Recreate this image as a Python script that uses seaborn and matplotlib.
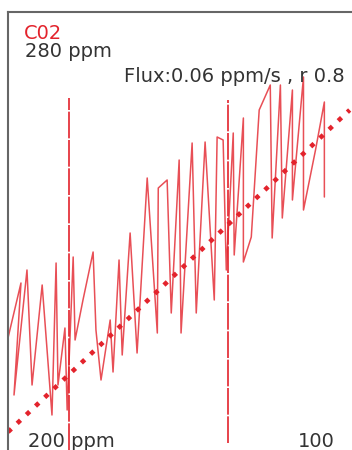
"""CO2 chamber trace with flux trend."""
import matplotlib
matplotlib.use("Agg")
import matplotlib.pyplot as plt
import seaborn as sns

sns.set_theme(style="white")
plt.rcParams["font.family"] = ["DejaVu Sans"]

# CO2 concentration trace (seconds, ppm)
trace_t = [0.0, 4.1, 1.9, 6.0, 7.6, 10.8, 13.9, 15.2, 15.8, 18.0, 18.7, 20.6,
           21.2, 23.7, 26.9, 27.8, 29.4, 32.3, 33.2, 35.1, 36.1, 38.6, 40.8,
           44.0, 47.2, 47.5, 50.3, 51.6, 54.1, 54.7, 58.2, 59.5, 62.3, 65.2,
           66.1, 68.0, 69.0, 71.2, 71.5, 74.4, 74.4, 76.9, 79.4, 82.9, 83.5,
           86.1, 86.7, 89.9, 89.9, 93.4, 93.4, 97.2, 100.0, 100.0]
trace_ppm = [222.4, 233.4, 211.0, 236.0, 213.0, 233.0, 207.0, 237.4, 213.0,
             224.4, 208.0, 238.6, 222.0, 230.0, 239.6, 224.0, 214.0, 226.0,
             215.6, 238.0, 219.0, 243.4, 219.4, 254.4, 223.4, 252.4, 254.0,
             227.4, 258.0, 223.4, 261.4, 227.4, 261.6, 230.0, 262.6, 262.0,
             236.0, 263.4, 239.0, 266.4, 237.6, 242.6, 268.0, 273.0, 242.4,
             273.0, 246.4, 272.0, 250.0, 274.6, 248.0, 260.0, 269.6, 250.6]

# fitted flux line
trend_t = [0.0, 108.0]
trend_ppm = [203.6, 268.0]

# window markers (start / end)
window_t = [19.3, 69.6]
window_top = [270.4, 270.0]
window_bottom = [200.0, 201.4]

red = "#e3232c"
ink = "#333333"

fig = plt.figure(figsize=(3.52, 4.5), dpi=100)
ax = fig.add_axes([8 / 352, 0.0, 348 / 352, 438 / 450])

for t, top, bot in zip(window_t, window_top, window_bottom):
    ax.plot([t, t], [bot, top], color=red, lw=1.2, ls=(0, (16, 1)))

sns.lineplot(x=trace_t, y=trace_ppm, sort=False, estimator=None, ax=ax,
             color=red, lw=1.1, alpha=0.8)
sns.lineplot(x=trend_t, y=trend_ppm, sort=False, estimator=None, ax=ax,
             color=red, lw=3.3, dashes=False)
ax.lines[-1].set_linestyle((0, (1, 1.75)))
ax.lines[-1].set_dash_capstyle("butt")

ax.set_xlim(0, 110)
ax.set_ylim(200, 287.6)
ax.set_xticks([]); ax.set_yticks([])
ax.set_xlabel(""); ax.set_ylabel("")
for side in ("right", "bottom"):
    ax.spines[side].set_visible(False)
for side in ("left", "top"):
    ax.spines[side].set_color("#666666")
    ax.spines[side].set_linewidth(1.5)

fs = 14
fig.text(24 / 352, 1 - 39 / 450, "C02", color=red, fontsize=fs, va="baseline")
fig.text(25 / 352, 1 - 57 / 450, "280 ppm", color=ink, fontsize=fs, va="baseline")
fig.text(345 / 352, 1 - 82 / 450, "Flux:0.06 ppm/s , r 0.8", color=ink,
         fontsize=fs, va="baseline", ha="right")
fig.text(28 / 352, 1 - 447 / 450, "200 ppm", color=ink, fontsize=fs, va="baseline")
fig.text(335 / 352, 1 - 447 / 450, "100", color=ink, fontsize=fs, va="baseline",
         ha="right")

fig.savefig("out.png", dpi=100)
plt.close(fig)
